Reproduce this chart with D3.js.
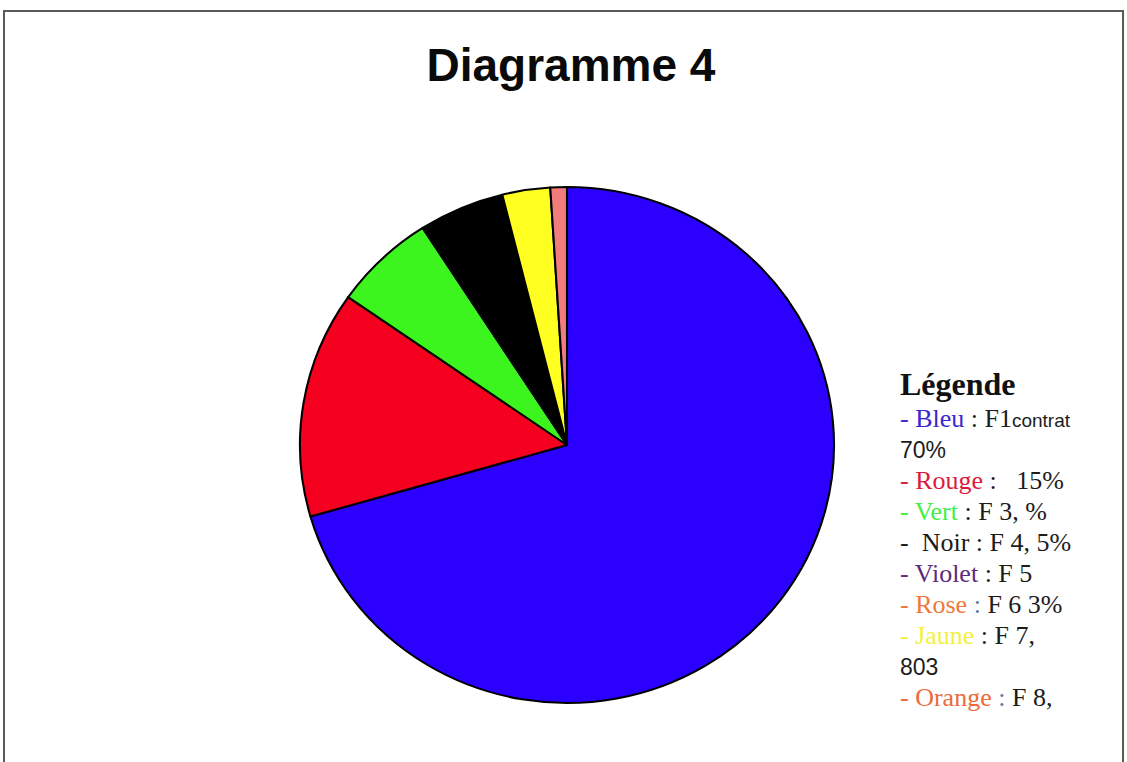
<!DOCTYPE html>
<html>
<head>
<meta charset="utf-8">
<script src="https://cdn.jsdelivr.net/npm/d3@7"></script>
<style>
  html, body { margin: 0; padding: 0; background: #fff; }
</style>
</head>
<body>
<div id="chart"></div>
<script>
// slices, read clockwise from 12 o'clock
const categories = ['Bleu', 'Rouge', 'Vert', 'Noir', 'Jaune', 'Rose'];
const values = [70.6, 14.2, 6.2, 5.2, 2.9, 1.0];
const sliceColors = ['#2b00ff', '#f5001e', '#3cf51e', '#000000', '#ffff22', '#f07c7c'];

const title = 'Diagramme 4';
const legendTitle = 'Légende';

// legend lines: each is a list of [text, colour, font]
const legendLines = [
  [['- Bleu', '#3a26d0', 'serif'], [' : F1', '#1c1c1c', 'serif'], ['contrat', '#1c1c1c', 'small']],
  [['70%', '#1c1c1c', 'sans']],
  [['- Rouge', '#dc1a3c', 'serif'], [' :   15%', '#1c1c1c', 'serif']],
  [['- Vert', '#44ee44', 'serif'], [' : F 3, %', '#1c1c1c', 'serif']],
  [['-  Noir : F 4, 5%', '#1c1c1c', 'serif']],
  [['- Violet', '#5e2a7e', 'serif'], [' : F 5', '#1c1c1c', 'serif']],
  [['- Rose', '#ee7a3a', 'serif'], [' : ', '#5a78a8', 'serif'], ['F 6 3%', '#1c1c1c', 'serif']],
  [['- Jaune', '#f4f040', 'serif'], [' : F 7,', '#1c1c1c', 'serif']],
  [['803', '#1c1c1c', 'sans']],
  [['- Orange', '#ee6a3a', 'serif'], [' : ', '#5a78a8', 'serif'], ['F 8,', '#1c1c1c', 'serif']]
];

const width = 1127, height = 762;
const cx = 567, cy = 445, radius = 258, xStretch = 1.035;

const svg = d3.select('#chart')
  .append('svg')
  .attr('width', width)
  .attr('height', height);

// page frame
svg.append('rect')
  .attr('x', 4).attr('y', 11)
  .attr('width', 1119).attr('height', 780)
  .attr('fill', '#fff')
  .attr('stroke', '#5a5a5a')
  .attr('stroke-width', 2);

svg.append('text')
  .attr('x', 571).attr('y', 81)
  .attr('text-anchor', 'middle')
  .attr('font-family', '"Liberation Sans", Arial, sans-serif')
  .attr('font-weight', 'bold')
  .attr('font-size', 46)
  .attr('fill', '#0a0a0a')
  .text(title);

// pie
const pie = d3.pie().sort(null).value(d => d.value);
const arc = d3.arc().innerRadius(0).outerRadius(radius);
const data = categories.map((c, i) => ({ name: c, value: values[i], color: sliceColors[i] }));

const g = svg.append('g')
  .attr('transform', `translate(${cx},${cy}) scale(${xStretch},1)`);

g.selectAll('path')
  .data(pie(data))
  .enter().append('path')
  .attr('d', arc)
  .attr('fill', d => d.data.color)
  .attr('stroke', '#000')
  .attr('stroke-width', 2)
  .attr('stroke-linejoin', 'round');

// legend
const legend = svg.append('g').attr('transform', 'translate(900,0)');

legend.append('text')
  .attr('x', 0).attr('y', 395)
  .attr('font-family', '"Liberation Serif", "Times New Roman", serif')
  .attr('font-weight', 'bold')
  .attr('font-size', 32)
  .attr('fill', '#111')
  .text(legendTitle);

const fonts = {
  serif: { family: '"Liberation Serif", "Times New Roman", serif', size: 26 },
  sans: { family: '"Liberation Sans", Arial, sans-serif', size: 23 },
  small: { family: '"Liberation Sans", Arial, sans-serif', size: 19 }
};

const rows = legend.selectAll('text.row')
  .data(legendLines)
  .enter().append('text')
  .attr('class', 'row')
  .attr('x', 0)
  .attr('y', (d, i) => 427 + i * 31)
  .attr('xml:space', 'preserve')
  .style('white-space', 'pre');

rows.selectAll('tspan')
  .data(d => d)
  .enter().append('tspan')
  .attr('font-family', d => fonts[d[2]].family)
  .attr('font-size', d => fonts[d[2]].size)
  .attr('fill', d => d[1])
  .text(d => d[0]);
</script>
</body>
</html>
